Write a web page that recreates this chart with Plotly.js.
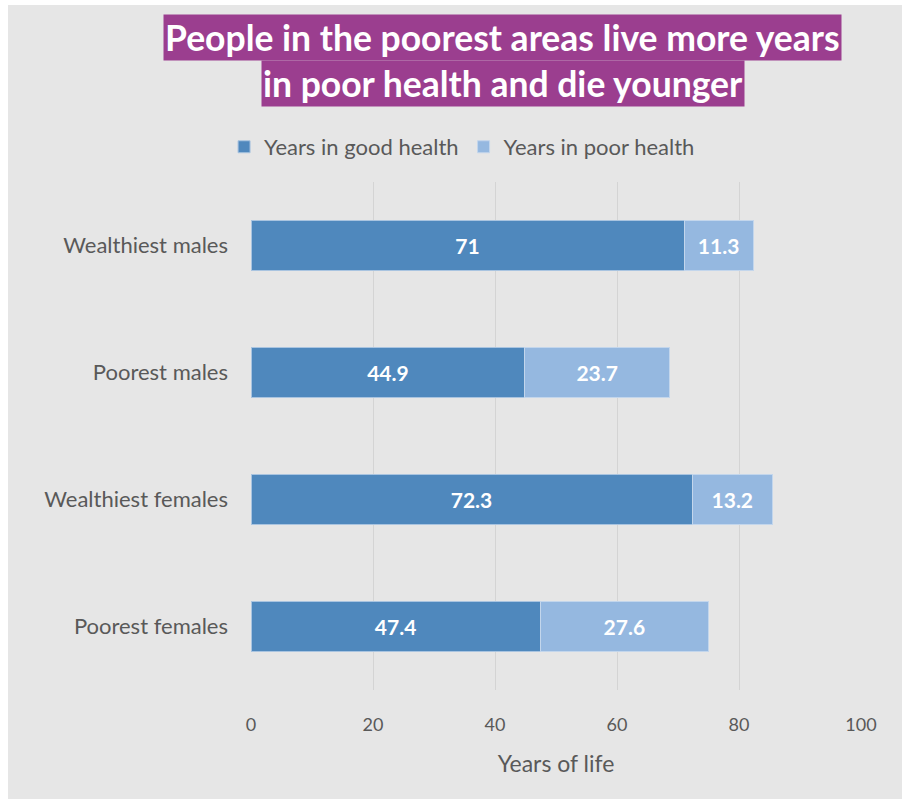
<!DOCTYPE html>
<html>
<head>
<meta charset="utf-8">
<script src="https://cdn.plot.ly/plotly-3.0.1.min.js"></script>
<style>
  html, body { margin: 0; padding: 0; background: #ffffff; }
  #chart { position: absolute; left: 8px; top: 5px; width: 894px; height: 794px; }
</style>
</head>
<body>
<div id="chart"></div>
<script>
const categories = ["Wealthiest males", "Poorest males", "Wealthiest females", "Poorest females"];
const goodHealth = [71, 44.9, 72.3, 47.4];
const poorHealth = [11.3, 23.7, 13.2, 27.6];
const seriesNames = ["Years in good health", "Years in poor health"];
const xTicks = [0, 20, 40, 60, 80, 100];
const titleLines = ["People in the poorest areas live more years", "in poor health and die younger"];
const xTitle = "Years of life";

const FONT = "Lato, Carlito, Calibri, sans-serif";
const GREY = "#595959";

const traces = [
  {
    type: "bar", orientation: "h", name: seriesNames[0],
    y: categories, x: goodHealth,
    text: goodHealth.map(String), textposition: "inside", insidetextanchor: "middle",
    textfont: { family: FONT, size: 21, color: "#ffffff", weight: "bold" },
    marker: { color: "#4f88bd", line: { color: "#a9c4e0", width: 1 } },
    hoverinfo: "x+y"
  },
  {
    type: "bar", orientation: "h", name: seriesNames[1],
    y: categories, x: poorHealth,
    text: poorHealth.map(String), textposition: "inside", insidetextanchor: "middle",
    textfont: { family: FONT, size: 21, color: "#ffffff", weight: "bold" },
    marker: { color: "#95b8e0", line: { color: "#c3d6ec", width: 1 } },
    hoverinfo: "x+y"
  }
];

const layout = {
  width: 894, height: 794,
  paper_bgcolor: "#e6e6e6", plot_bgcolor: "#e6e6e6",
  margin: { l: 243, r: 41, t: 177, b: 109 },
  barmode: "stack", bargap: 0.61,
  font: { family: FONT, color: GREY, size: 22 },
  showlegend: true,
  legend: {
    orientation: "h", x: 0.346, xanchor: "center", y: 1.069, yanchor: "middle",
    font: { family: FONT, size: 22, color: GREY }, traceorder: "normal",
    itemwidth: 30, bgcolor: "rgba(0,0,0,0)"
  },
  xaxis: {
    range: [0, 100], tickvals: xTicks, ticktext: xTicks.map(String),
    showgrid: true, gridcolor: "#d4d4d4", gridwidth: 1, zeroline: false,
    showline: false, ticks: "", ticklabelstandoff: 22,
    tickfont: { family: FONT, size: 18, color: GREY },
    title: { text: xTitle, font: { family: FONT, size: 23, color: GREY }, standoff: 21 },
    fixedrange: true
  },
  yaxis: {
    categoryorder: "array", categoryarray: categories, autorange: "reversed",
    showgrid: false, zeroline: false, showline: false, ticks: "",
    ticklabelstandoff: 22,
    tickfont: { family: FONT, size: 22, color: GREY },
    fixedrange: true
  },
  annotations: [
    {
      text: titleLines[0], xref: "paper", yref: "paper", x: 0.4123, y: 1.2835,
      xanchor: "center", yanchor: "middle", showarrow: false,
      font: { family: FONT, size: 35.5, color: "#ffffff", weight: "bold" },
      bgcolor: "#9b3e8f", borderpad: 1
    },
    {
      text: titleLines[1], xref: "paper", yref: "paper", x: 0.4123, y: 1.193,
      xanchor: "center", yanchor: "middle", showarrow: false,
      font: { family: FONT, size: 35.5, color: "#ffffff", weight: "bold" },
      bgcolor: "#9b3e8f", borderpad: 1
    }
  ]
};

Plotly.newPlot("chart", traces, layout, { displayModeBar: false, staticPlot: true });
</script>
</body>
</html>
